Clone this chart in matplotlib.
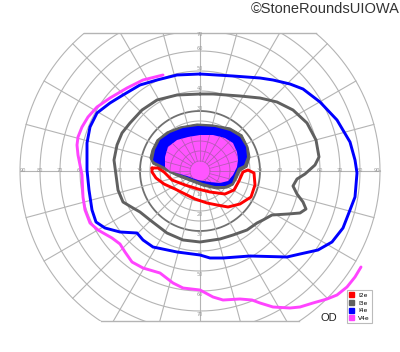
import numpy as np
import matplotlib
matplotlib.use("Agg")
import matplotlib.pyplot as plt
from matplotlib.patches import Patch, Rectangle, Polygon

# ---------------- data (degrees of visual field) ----------------
legend_labels = ["I2e", "I3e", "I4e", "V4e"]
legend_colors = ["#ff0000", "#606060", "#0000ff", "#ff44ff"]

ring_values = [5, 10, 15, 20, 25, 30, 40, 50, 60, 70, 80, 90]
axis_label_values = [10, 20, 30, 40, 50, 60, 70, 80, 90]
vert_label_values = [10, 20, 30, 40, 50, 60, 70]
meridians = list(range(0, 360, 15))

# I4e (blue) isopter
i4e_x = [0, 16.5, 30, 36.5, 45, 51.5, 60, 68.5, 75, 77.5, 78.5, 77.5, 75, 71.5, 66, 59,
         50, 43.5, 25, 11.5, 5, 0, -11.5, -23.5, -28.5, -31.5, -40, -47.5, -52, -54,
         -55.5, -56.5, -56.5, -55, -51.5, -45, -38.5, -30, -21.5, -11.5, 0]
i4e_y = [48.5, 47.5, 46.5, 45.5, 43.5, 41, 34.5, 25.5, 14.5, 5.5, -1, -13, -19.5, -28.5,
         -35.5, -39.5, -41.5, -43, -42.5, -43.5, -43.5, -42, -40.5, -38, -34.5, -31,
         -30.5, -28.5, -25.5, -19.5, -9.5, 0.5, 14, 22, 29, 34, 38, 43, 45.5, 48, 48.5]

# I3e (gray) isopter
i3e_x = [0, 6.5, 20, 30, 38.5, 46.5, 53.5, 58, 59.5, 57.5, 52.5, 48.5, 46.5, 48.5, 51.5,
         53, 50, 44, 36, 31.5, 28.5, 23.5, 16.5, 10, 0, -8.5, -16.5, -25, -30, -33.5,
         -38.5, -41, -42, -43, -41.5, -39, -35, -29, -21.5, -11.5, 0]
i3e_y = [38.5, 38.5, 37.5, 36.5, 34.5, 30.5, 24, 15.5, 7, 3, -1.5, -4, -7.5, -11.5, -15.5,
         -19, -21, -21.5, -22, -24.5, -26, -29.5, -32, -34, -35.5, -34.5, -31, -24.5,
         -20.5, -18.5, -15.5, -9.5, -2, 5.5, 13, 19, 24, 30.5, 35.5, 38, 38.5]

# I2e (red) isopter
i2e_x = [-24, -21, -18, -14, -7.5, -1, 5, 12.5, 17, 19.5, 21.5, 24, 27, 27.5, 25.5, 20, 14,
         8.5, 3.5, -2.5, -7.5, -12.5, -18, -22, -24, -24]
i2e_y = [1.5, 1.5, -0.5, -4.5, -7, -9, -10.5, -11.5, -9.5, -5, -0.5, 0.5, -1, -7, -13, -16.5,
         -18, -17, -16, -14, -11.5, -9, -6.5, -3.5, -0.5, 1.5]

# central filled areas
gray_blob_x = [-25, -24, -21.5, -16.5, -10, -1.5, 6.5, 15, 21, 24, 25, 23.5, 20, 18.5,
               16.5, 13.5, 8.5, 1.5, -5, -11.5, -18.5, -23.5]
gray_blob_y = [6.5, 10.5, 15.5, 19.5, 22, 23.5, 23, 21.5, 18, 12, 7, 2, 0, -3.5, -7,
               -8.5, -9, -7.5, -5, -2.5, 1, 3.5]
blue_blob_x = [-23.5, -22.5, -20, -15, -8.5, -1, 7.5, 15, 20, 23, 23.5, 22, 19, 17.5,
               16, 12.5, 7.5, 1.5, -5, -11.5, -18.5, -22.5]
blue_blob_y = [5.5, 10.5, 15.5, 19, 21.5, 22.5, 22, 20, 17, 12, 7, 3, 1.5, -2, -6,
               -7.5, -7.5, -6, -3.5, -1, 2.5, 4.5]
pink_blob_x = [-17.5, -17.5, -16, -11.5, -6, 0, 6.5, 12.5, 16.5, 18.5, 19, 18.5, 16.5,
               14, 10, 5, -1, -6.5, -11.5, -15]
pink_blob_y = [2, 7, 12, 15.5, 17, 18, 18, 16.5, 14, 9.5, 5.5, 2, -2, -5, -6, -5.5,
               -4.5, -2.5, -1, 0]

# V4e (magenta) isopter, open curve
v4e_x = [-18.5, -28.5, -36.5, -45, -51.5, -56, -59, -61, -61.5, -61, -60, -59, -58.5,
         -57.5, -55, -51, -44, -40, -37.5, -34, -28.5, -20, -13.5, -8.5, 0, 6.5, 11.5,
         20, 26, 30, 36.5, 45, 50, 56.5, 63.5, 68.5, 73.5, 77.5, 80.5]
v4e_y = [48, 45.5, 41.5, 36.5, 32, 27, 22, 17, 13, 8, 3, -2, -13, -19.5, -26, -29.5,
         -33.5, -36.5, -40.5, -45.5, -48.5, -51, -56, -58.5, -59.5, -63, -64.5, -64,
         -64.5, -66, -68, -68.5, -68, -66, -64, -62, -58, -53, -48]

# ---------------- figure ----------------
fig = plt.figure(figsize=(4.0, 3.52), dpi=100)
ax = fig.add_axes([0, 0, 1, 1])
ax.set_xlim(-100, 100)
ax.set_ylim(-90.5, 85.5)
ax.set_aspect("equal")
ax.axis("off")

top_clip, bot_clip = 69, -75
clip = Rectangle((-100, bot_clip), 200, top_clip - bot_clip, transform=ax.transData,
                 facecolor="none", edgecolor="none")
ax.add_patch(clip)

grid_c = "#b4b4b4"
t = np.linspace(0, 2 * np.pi, 721)


def draw_grid(color, lw, z, clip_patch, rings, r_max=90, dark30=True):
    for r in rings:
        col, w = (color, lw)
        if r == 30 and dark30:
            col, w = ("#707070", 1.3)
        ln, = ax.plot(r * np.cos(t), r * np.sin(t), color=col, lw=w, zorder=z)
        ln.set_clip_path(clip_patch)
    for a in meridians:
        th = np.deg2rad(a)
        ln, = ax.plot([5 * np.cos(th), r_max * np.cos(th)],
                      [5 * np.sin(th), r_max * np.sin(th)], color=color, lw=lw, zorder=z)
        ln.set_clip_path(clip_patch)


draw_grid(grid_c, 0.8, 1, clip, ring_values)
for yb in (top_clip, bot_clip):
    hw = np.sqrt(90 ** 2 - yb ** 2)
    ax.plot([-hw, hw], [yb, yb], color=grid_c, lw=1.0, zorder=1)

lab_kw = dict(fontsize=3.6, color="#9a9a9a", ha="center", va="center", zorder=1.5)
for v in axis_label_values:
    xv = min(v, 88.5)
    ax.text(xv, 0, str(v), **lab_kw)
    ax.text(-xv, 0, str(v), **lab_kw)
for v in vert_label_values:
    ax.text(0, min(v + 1.5, 68), str(v), **lab_kw)
    ax.text(0, -(v + 1.5), str(v), **lab_kw)

# filled central areas
ax.add_patch(Polygon(np.column_stack([gray_blob_x, gray_blob_y]), closed=True,
                     facecolor=legend_colors[1], edgecolor=legend_colors[1], lw=0.8, zorder=2))
ax.add_patch(Polygon(np.column_stack([blue_blob_x, blue_blob_y]), closed=True,
                     facecolor=legend_colors[2], edgecolor="none", zorder=3))
pink_poly = Polygon(np.column_stack([pink_blob_x, pink_blob_y]), closed=True,
                    facecolor="#ff55ff", edgecolor="none", zorder=4)
ax.add_patch(pink_poly)
# grid visible through the pink area
draw_grid("#b85ab8", 0.6, 4.5, pink_poly, [5, 10, 15, 20], r_max=30, dark30=False)

line_kw = dict(lw=2.1, solid_joinstyle="round", solid_capstyle="round", zorder=5)
ax.plot(i2e_x, i2e_y, color=legend_colors[0], **line_kw)
ax.plot(i3e_x, i3e_y, color=legend_colors[1], **line_kw)
ax.plot(i4e_x, i4e_y, color=legend_colors[2], **line_kw)
ax.plot(v4e_x, v4e_y, color=legend_colors[3], **line_kw)

handles = [Patch(facecolor=c, edgecolor=c) for c in legend_colors]
leg = fig.legend(handles, legend_labels, loc="lower left",
                 bbox_to_anchor=(347 / 400, (352 - 323) / 352), fontsize=4.3,
                 frameon=True, fancybox=False, edgecolor="#aaaaaa",
                 handlelength=0.9, handleheight=0.9, handletextpad=0.6,
                 labelspacing=0.35, borderpad=0.35, borderaxespad=0)
leg.get_frame().set_linewidth(0.8)
leg.set_zorder(10)

fig.text(329 / 400, 1 - 318 / 352, "OD", fontsize=8, ha="center", va="center",
         color="#222222", family="Liberation Sans")
fig.text(400 / 400, 1 - 9 / 352, "\u00a9StoneRoundsUIOWA", fontsize=10.5, ha="right",
         va="center", color="#333333", family="Liberation Sans")

fig.savefig("out.png", dpi=100, facecolor="white")
